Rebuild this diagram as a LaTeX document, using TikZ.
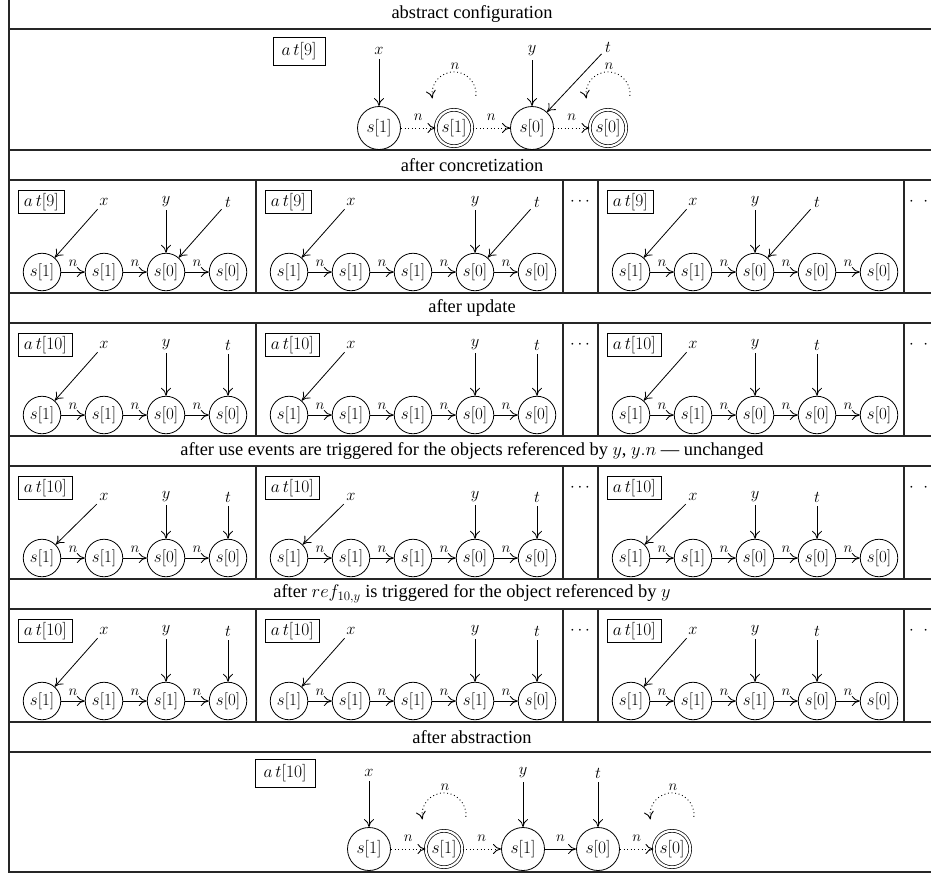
\RequirePackage{fix-cm}
\documentclass[tikz,border=0pt]{standalone}
\usepackage[no-math]{fontspec}
\setmainfont{Liberation Serif}
\usetikzlibrary{arrows.meta,calc}
\tikzset{
 tbl/.style={line width=1.1pt, black!85},
 hdr/.style={font=\fontsize{18.4}{20}\selectfont, inner sep=0pt},
 cst/.style={circle, draw, line width=0.8pt, minimum size=37.5pt, inner sep=0pt, font=\fontsize{17}{19}\selectfont},
 ast/.style={circle, draw, line width=0.8pt, minimum size=43pt, inner sep=0pt, font=\fontsize{17.5}{19}\selectfont},
 dst/.style={circle, draw, double, double distance=2.2pt, line width=0.7pt, minimum size=36.4pt, inner sep=0pt, font=\fontsize{17.5}{19}\selectfont},
 vlab/.style={font=\fontsize{16.5}{18}\selectfont, inner sep=2pt},
 nlab/.style={font=\fontsize{15}{16}\selectfont, inner sep=1.5pt, above, yshift=3.5pt},
 anlab/.style={nlab, yshift=2pt},
 atbox/.style={draw, line width=0.7pt, font=\fontsize{17.5}{20}\selectfont, inner xsep=5.5pt, inner ysep=2.8pt},
 bigatbox/.style={atbox, inner xsep=8.5pt, inner ysep=5.2pt},
 arr/.style={line width=0.8pt, -{Computer Modern Rightarrow[length=8pt,width=10pt]}},
 darr/.style={arr, line width=0.9pt, dash pattern=on 0.9pt off 2.7pt},
 dotsnode/.style={font=\fontsize{17}{19}\selectfont, inner sep=0pt},
}
\newcommand{\nloop}[1]{%
 \coordinate (#1-ls) at ($(#1)+(21.9,32.2)$);
 \draw[darr] (#1-ls) arc[start angle=-5, end angle=192, radius=22];
 \node[font=\fontsize{15}{16}\selectfont, inner sep=0.5pt] (#1-ln) at ($(#1)+(1,62)$) {$n$};
}
\def\labofs{70}
% #1 prefix, #2 panel left, #3 row top, #4 at number, #5 states, #6 y target, #7 t label column, #8 t target
\newcommand{\cpanel}[8]{%
 \node[atbox, anchor=west] (#1-at) at ({#2+9},{-(#3+22)}) {$a\,t[#4]$};
 \foreach \s [count=\i] in {#5} {%
   \node[cst] (#1-\i) at ({#2+33+62*(\i-1)},{-(#3+92)}) {$s[\s]$};
 }
 \foreach \s [count=\i] in {#5} {%
   \ifnum\i>1 \pgfmathtruncatemacro\j{\i-1}\draw[arr] (#1-\j) -- node[nlab]{$n$} (#1-\i);\fi
 }
 \node[vlab] (#1-x) at ([yshift=\labofs pt]#1-2) {$x$};
 \node[vlab] (#1-y) at ([yshift=\labofs pt]#1-#6) {$y$};
 \node[vlab] (#1-t) at ([yshift=\labofs pt]#1-#7) {$t$};
 \draw[arr, shorten <=2pt] (#1-x) -- (#1-1);
 \draw[arr, shorten <=1pt] (#1-y) -- (#1-#6);
 \draw[arr, shorten <=2pt] (#1-t) -- (#1-#8);
}
\begin{document}
\begin{tikzpicture}[x=1pt,y=1pt]
\useasboundingbox (0,0) rectangle (931,-873);
% table
\draw[tbl] (9,0) -- (9,-873);
\foreach \yy in {29,150,180,293,323,436,466,579,609,722,752,872} \draw[tbl] (9,-\yy) -- (931,-\yy);
\foreach \yt in {180,323,466,609} {
  \foreach \xx in {256,563,598,904} \draw[tbl] (\xx,-\yt) -- (\xx,{-(\yt+113)});
  \node[dotsnode] (dm\yt) at (580,{-(\yt+21.5)}) {$\cdots$};
  \node[dotsnode, anchor=west] (dr\yt) at (909,{-(\yt+21.5)}) {$\cdot\mkern10mu\cdot$};
}
% headers
\node[hdr] (h0) at (472,-14.5) {abstract configuration};
\node[hdr] (h1) at (472,-165) {after concretization};
\node[hdr] (h2) at (472,-308) {after update};
\node[hdr] (h3) at (472,-451) {after use events are triggered for the objects referenced by $y$, $y.n$ --- unchanged};
\node[hdr] (h4) at (472,-594) {after $ref_{10,y}$ is triggered for the object referenced by $y$};
\node[hdr] (h5) at (472,-737) {after abstraction};
% abstract configuration
\node[bigatbox] (A-at) at (299,-51) {$a\,t[9]$};
\node[ast] (A1) at (379,-128) {$s[1]$};
\node[dst] (A2) at (454,-128) {$s[1]$};
\node[ast] (A3) at (532,-128) {$s[0]$};
\node[dst] (A4) at (608,-128) {$s[0]$};
\draw[darr] (A1) -- node[anlab]{$n$} (A2);
\draw[darr] (A2) -- node[anlab]{$n$} (A3);
\draw[darr] (A3) -- node[anlab]{$n$} (A4);
\node[vlab] (A-x) at (379,-51) {$x$};
\node[vlab] (A-y) at (532,-51) {$y$};
\node[vlab] (A-t) at (608,-47) {$t$};
\draw[arr, shorten <=2pt] (A-x) -- (A1);
\draw[arr, shorten <=2pt] (A-y) -- (A3);
\draw[arr, shorten <=2pt] (A-t) -- (A3);
\nloop{A2}
\nloop{A4}
% concretization
\cpanel{c1}{9}{180}{9}{1,1,0,0}{3}{4}{3}
\cpanel{c2}{256}{180}{9}{1,1,1,0,0}{4}{5}{4}
\cpanel{c3}{598}{180}{9}{1,1,0,0,0}{3}{4}{3}
% update
\cpanel{u1}{9}{323}{10}{1,1,0,0}{3}{4}{4}
\cpanel{u2}{256}{323}{10}{1,1,1,0,0}{4}{5}{5}
\cpanel{u3}{598}{323}{10}{1,1,0,0,0}{3}{4}{4}
% use events
\def\labofs{61}
\cpanel{e1}{9}{466}{10}{1,1,0,0}{3}{4}{4}
\cpanel{e2}{256}{466}{10}{1,1,1,0,0}{4}{5}{5}
\cpanel{e3}{598}{466}{10}{1,1,0,0,0}{3}{4}{4}
% ref
\def\labofs{70}
\cpanel{r1}{9}{609}{10}{1,1,1,0}{3}{4}{4}
\cpanel{r2}{256}{609}{10}{1,1,1,1,0}{4}{5}{5}
\cpanel{r3}{598}{609}{10}{1,1,1,0,0}{3}{4}{4}
% abstraction
\node[bigatbox] (B-at) at (285,-773) {$a\,t[10]$};
\node[ast] (B1) at (369,-849) {$s[1]$};
\node[dst] (B2) at (444,-849) {$s[1]$};
\node[ast] (B3) at (523,-849) {$s[1]$};
\node[ast] (B4) at (598,-849) {$s[0]$};
\node[dst] (B5) at (672,-849) {$s[0]$};
\draw[darr] (B1) -- node[anlab]{$n$} (B2);
\draw[darr] (B2) -- node[anlab]{$n$} (B3);
\draw[arr] (B3) -- node[anlab]{$n$} (B4);
\draw[darr] (B4) -- node[anlab]{$n$} (B5);
\node[vlab] (B-x) at (369,-773) {$x$};
\node[vlab] (B-y) at (523,-773) {$y$};
\node[vlab] (B-t) at (598,-773) {$t$};
\draw[arr, shorten <=2pt] (B-x) -- (B1);
\draw[arr, shorten <=2pt] (B-y) -- (B3);
\draw[arr, shorten <=2pt] (B-t) -- (B4);
\nloop{B2}
\nloop{B5}
\end{tikzpicture}
\end{document}
